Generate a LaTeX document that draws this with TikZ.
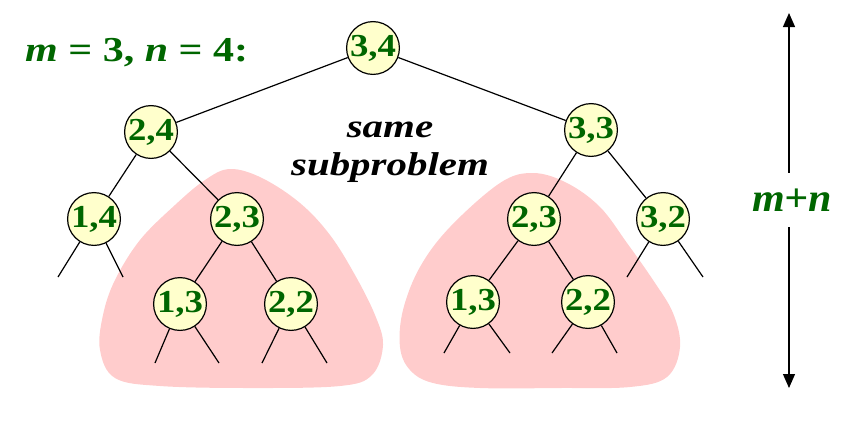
\documentclass[tikz,border=0pt]{standalone}
\usepackage{fontspec}
\setmainfont{Liberation Serif}
\usetikzlibrary{arrows.meta}
\definecolor{dgreen}{RGB}{0,102,0}
\definecolor{pinkfill}{RGB}{255,204,204}
\definecolor{nodefill}{RGB}{255,255,204}
\newcommand\nlab[1]{\scalebox{1.15}[1]{#1}}
\begin{document}
\begin{tikzpicture}[x=1pt,y=-1pt,
 tnode/.style={circle,draw=black,line width=1.2pt,fill=nodefill,minimum size=51pt,inner sep=0pt,text=dgreen,font=\fontsize{32}{32}\selectfont\bfseries},
 edge/.style={line width=1.2pt,black},
 blob/.style={fill=pinkfill,draw=none},
 arr/.style={line width=1.2pt,-{Triangle[length=14pt,width=12pt]}}]
\useasboundingbox (0,0) rectangle (860,421);
% pink blobs
\fill[blob] plot[smooth cycle,tension=0.6] coordinates {(230,169) (262,178) (300,203) (330,235) (355,275) (375,315) (383,345) (372,375) (340,386) (250,388) (160,386) (115,378) (100,350) (103,315) (115,280) (140,240) (175,205) (205,180)};
\fill[blob] plot[smooth cycle,tension=0.6] coordinates {(533,173) (567,183) (600,207) (627,243) (653,280) (673,313) (680,347) (667,377) (630,387) (560,388) (480,388) (433,383) (410,370) (400,347) (403,310) (420,267) (450,227) (500,183)};
% title
\node[anchor=base west,inner sep=0pt,text=dgreen,font=\fontsize{35}{35}\selectfont\bfseries] (title) at (25,61) {\scalebox{1.2}[1]{\textit{m} = 3, \textit{n} = 4:}};
% same subproblem
\node[anchor=base,inner sep=0pt,font=\fontsize{33}{33}\selectfont\bfseries\itshape] (same) at (390,137) {\scalebox{1.24}[1]{same}};
\node[anchor=base,inner sep=0pt,font=\fontsize{33}{33}\selectfont\bfseries\itshape] (subp) at (390,175) {\scalebox{1.24}[1]{subproblem}};
% tree nodes
\node[tnode] (n34) at (373,48) {\nlab{3,4}};
\node[tnode] (n24) at (151,132) {\nlab{2,4}};
\node[tnode] (n33) at (591,130) {\nlab{3,3}};
\node[tnode] (n14) at (94,219) {\nlab{1,4}};
\node[tnode] (n23a) at (237,219) {\nlab{2,3}};
\node[tnode] (n13a) at (180,304) {\nlab{1,3}};
\node[tnode] (n22a) at (291,304) {\nlab{2,2}};
\node[tnode] (n23b) at (534,219) {\nlab{2,3}};
\node[tnode] (n32) at (663,219) {\nlab{3,2}};
\node[tnode] (n13b) at (473,302) {\nlab{1,3}};
\node[tnode] (n22b) at (588,302) {\nlab{2,2}};
% dangling ends
\coordinate (e14l) at (58,277);
\coordinate (e14r) at (123,277);
\coordinate (e13al) at (155,363);
\coordinate (e13ar) at (219,363);
\coordinate (e22al) at (262,363);
\coordinate (e22ar) at (327,363);
\coordinate (e32l) at (627,277);
\coordinate (e32r) at (703,277);
\coordinate (e13bl) at (444,353);
\coordinate (e13br) at (510,353);
\coordinate (e22bl) at (552,353);
\coordinate (e22br) at (617,353);
% edges
\draw[edge] (n34) -- (n24);
\draw[edge] (n34) -- (n33);
\draw[edge] (n24) -- (n14);
\draw[edge] (n24) -- (n23a);
\draw[edge] (n23a) -- (n13a);
\draw[edge] (n23a) -- (n22a);
\draw[edge] (n33) -- (n23b);
\draw[edge] (n33) -- (n32);
\draw[edge] (n23b) -- (n13b);
\draw[edge] (n23b) -- (n22b);
\draw[edge] (n14) -- (e14l);
\draw[edge] (n14) -- (e14r);
\draw[edge] (n13a) -- (e13al);
\draw[edge] (n13a) -- (e13ar);
\draw[edge] (n22a) -- (e22al);
\draw[edge] (n22a) -- (e22ar);
\draw[edge] (n32) -- (e32l);
\draw[edge] (n32) -- (e32r);
\draw[edge] (n13b) -- (e13bl);
\draw[edge] (n13b) -- (e13br);
\draw[edge] (n22b) -- (e22bl);
\draw[edge] (n22b) -- (e22br);
% height arrow
\node[inner sep=0pt,minimum height=54pt,text=dgreen,font=\fontsize{40}{40}\selectfont\bfseries\itshape] (mn) at (792,200) {\scalebox{1.05}[1]{m+n}};
\coordinate (top) at (789,13);
\coordinate (bot) at (789,388);
\draw[arr] ([xshift=-3pt]mn.north) -- (top);
\draw[arr] ([xshift=-3pt]mn.south) -- (bot);
\end{tikzpicture}
\end{document}
